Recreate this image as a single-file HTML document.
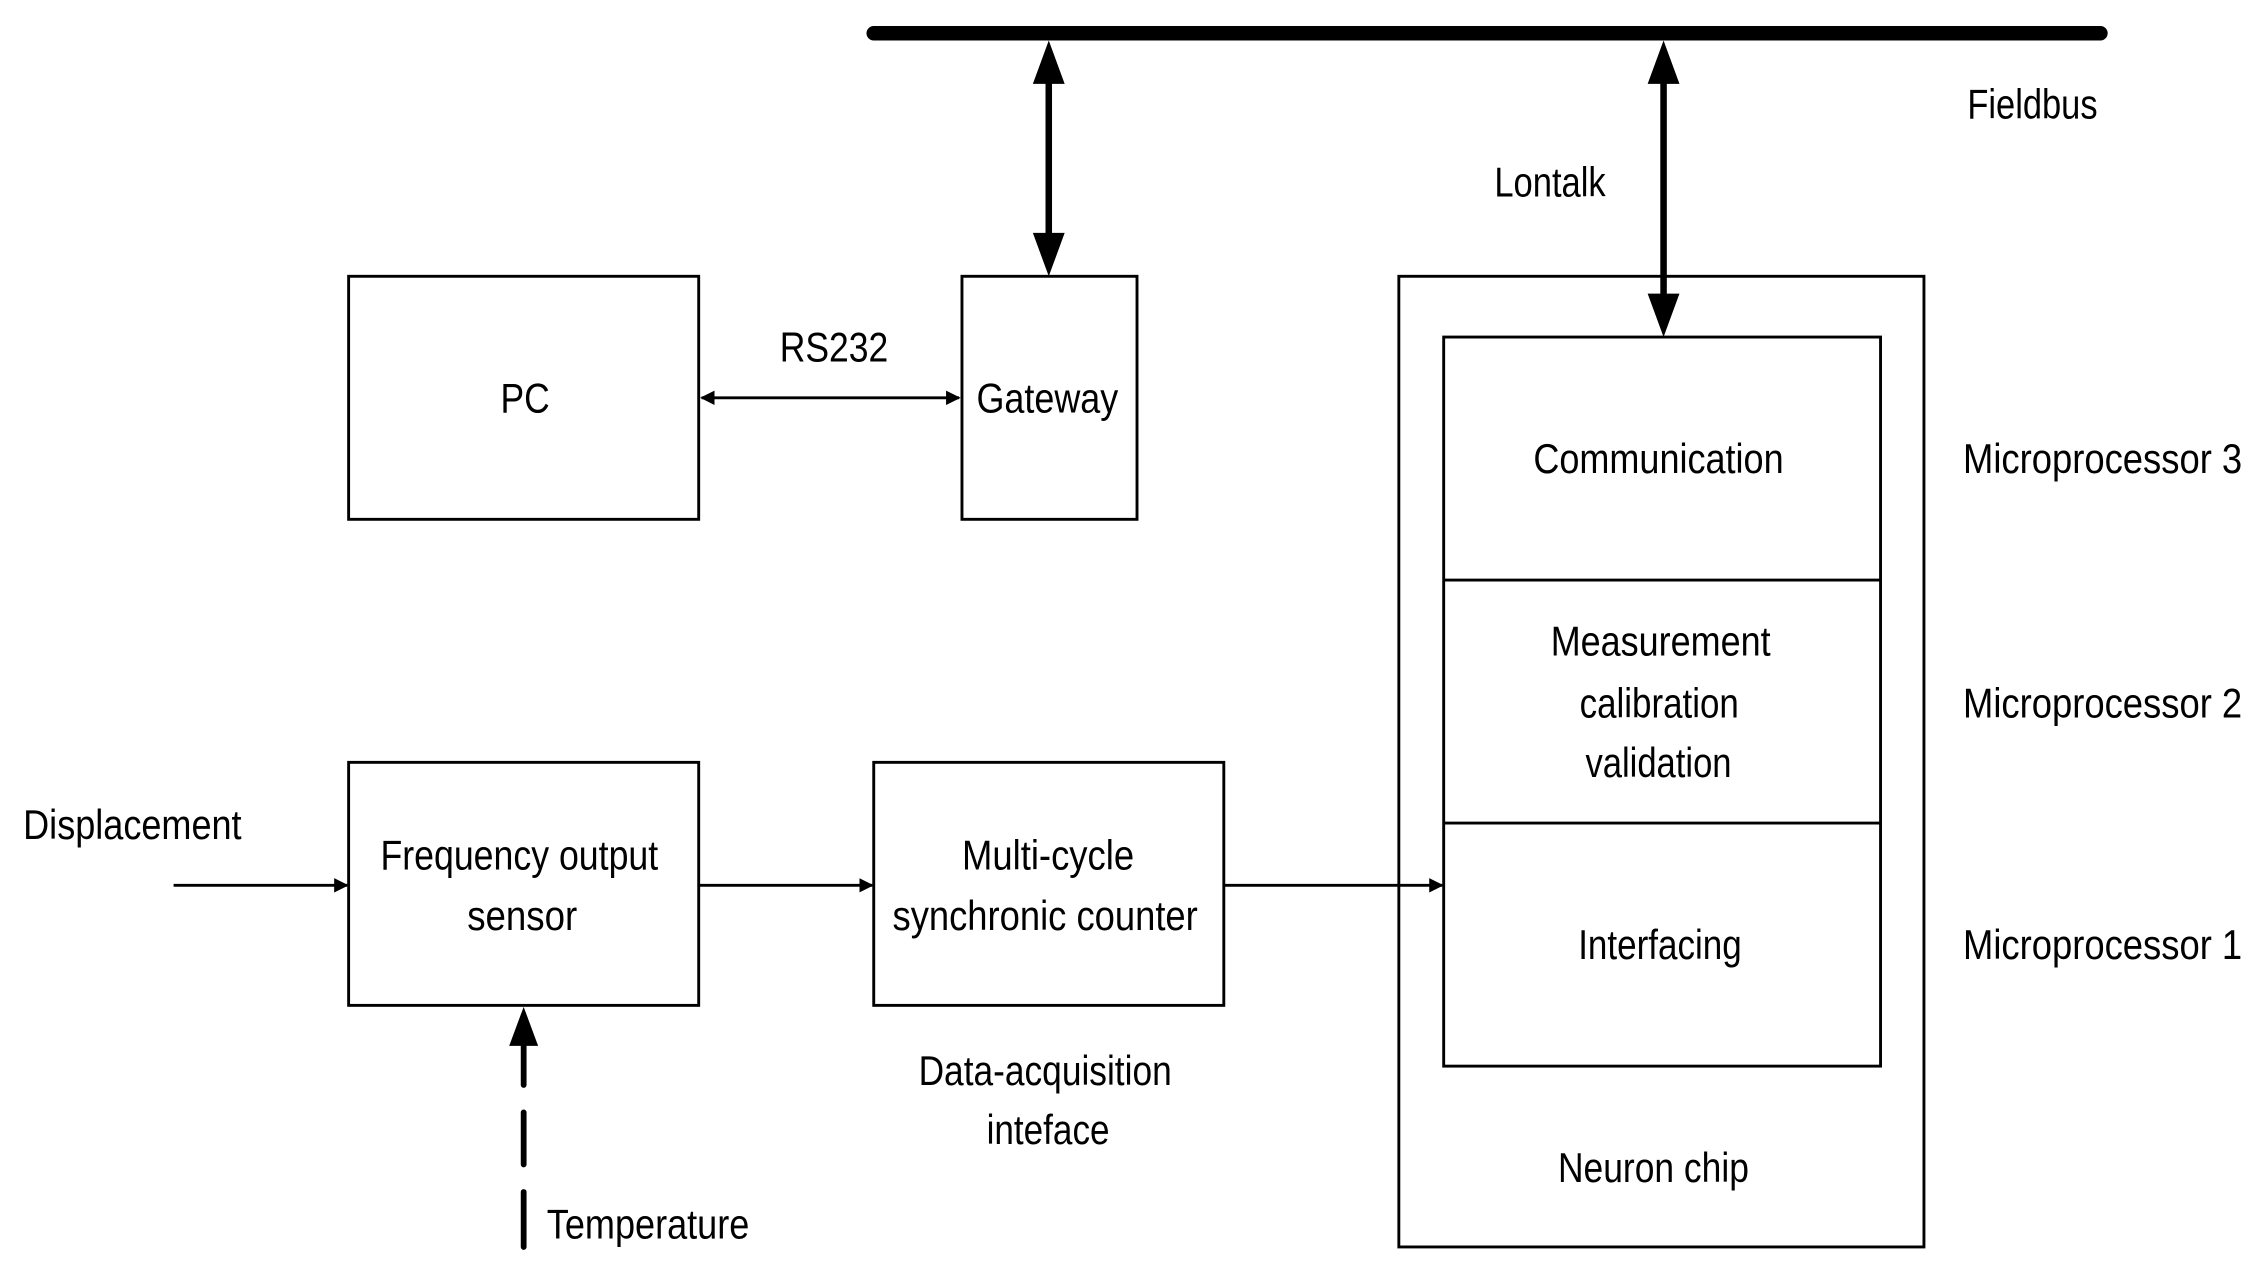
<!DOCTYPE html>
<html><head><meta charset="utf-8"><style>
html,body{margin:0;padding:0;background:#fff;}
svg{display:block;}
text{font-family:"Liberation Sans Narrow","Liberation Sans",Arial,sans-serif;font-size:29px;fill:#000;}
</style></head><body>
<svg width="2261" height="1274" viewBox="0 0 1563 880.7" preserveAspectRatio="none" xmlns="http://www.w3.org/2000/svg">
<defs>
<marker id="a" markerWidth="10" markerHeight="10" refX="9" refY="5" orient="auto-start-reverse" markerUnits="userSpaceOnUse"><path d="M0,0 L10,5 L0,10 z" fill="#000"/></marker>
</defs>
<line x1="604" y1="23" x2="1452" y2="23" stroke="#000" stroke-width="10" stroke-linecap="round"/>
<line x1="725" y1="50" x2="725" y2="170" stroke="#000" stroke-width="4.5"/>
<path d="M725,28 L714,58 L736,58 z M725,191 L714,161 L736,161 z" fill="#000"/>
<line x1="1150" y1="50" x2="1150" y2="212" stroke="#000" stroke-width="4.5"/>
<path d="M1150,28 L1139,58 L1161,58 z M1150,233 L1139,203 L1161,203 z" fill="#000"/>
<g fill="none" stroke="#000" stroke-width="2">
<rect x="241" y="191" width="242" height="168"/>
<rect x="665" y="191" width="121" height="168"/>
<rect x="967" y="191" width="363" height="671"/>
<rect x="998" y="233" width="302" height="504"/>
<line x1="998" y1="401" x2="1300" y2="401"/>
<line x1="998" y1="569" x2="1300" y2="569"/>
<rect x="241" y="527" width="242" height="168"/>
<rect x="604" y="527" width="242" height="168"/>
</g>
<g stroke="#000" stroke-width="2">
<line x1="485" y1="275" x2="663" y2="275" marker-start="url(#a)" marker-end="url(#a)"/>
<line x1="120" y1="612" x2="240" y2="612" marker-end="url(#a)"/>
<line x1="483" y1="612" x2="603" y2="612" marker-end="url(#a)"/>
<line x1="846" y1="612" x2="997" y2="612" marker-end="url(#a)"/>
</g>
<path d="M362,696 L352,723 L372,723 z" fill="#000"/>
<g stroke="#000" stroke-width="4" stroke-linecap="round">
<line x1="362" y1="722" x2="362" y2="750"/>
<line x1="362" y1="769" x2="362" y2="805"/>
<line x1="362" y1="824" x2="362" y2="862"/>
</g>
<g lengthAdjust="spacingAndGlyphs">
<text x="1360" y="82" textLength="90" lengthAdjust="spacingAndGlyphs">Fieldbus</text>
<text x="1033" y="136" textLength="77" lengthAdjust="spacingAndGlyphs">Lontalk</text>
<text x="346" y="285" textLength="34" lengthAdjust="spacingAndGlyphs">PC</text>
<text x="675" y="285" textLength="98" lengthAdjust="spacingAndGlyphs">Gateway</text>
<text x="539" y="250" textLength="75" lengthAdjust="spacingAndGlyphs">RS232</text>
<text x="1060" y="327" textLength="173" lengthAdjust="spacingAndGlyphs">Communication</text>
<text x="1072" y="453" textLength="152" lengthAdjust="spacingAndGlyphs">Measurement</text>
<text x="1092" y="496" textLength="110" lengthAdjust="spacingAndGlyphs">calibration</text>
<text x="1096" y="537" textLength="101" lengthAdjust="spacingAndGlyphs">validation</text>
<text x="1091" y="663" textLength="113" lengthAdjust="spacingAndGlyphs">Interfacing</text>
<text x="1077" y="817" textLength="132" lengthAdjust="spacingAndGlyphs">Neuron chip</text>
<text x="263" y="601" textLength="192" lengthAdjust="spacingAndGlyphs">Frequency output</text>
<text x="323" y="643" textLength="76" lengthAdjust="spacingAndGlyphs">sensor</text>
<text x="665" y="601" textLength="119" lengthAdjust="spacingAndGlyphs">Multi-cycle</text>
<text x="617" y="643" textLength="211" lengthAdjust="spacingAndGlyphs">synchronic counter</text>
<text x="635" y="750" textLength="175" lengthAdjust="spacingAndGlyphs">Data-acquisition</text>
<text x="682" y="791" textLength="85" lengthAdjust="spacingAndGlyphs">inteface</text>
<text x="1357" y="327" textLength="193" lengthAdjust="spacingAndGlyphs">Microprocessor 3</text>
<text x="1357" y="496" textLength="193" lengthAdjust="spacingAndGlyphs">Microprocessor 2</text>
<text x="1357" y="663" textLength="193" lengthAdjust="spacingAndGlyphs">Microprocessor 1</text>
<text x="16" y="580" textLength="151" lengthAdjust="spacingAndGlyphs">Displacement</text>
<text x="378" y="856" textLength="140" lengthAdjust="spacingAndGlyphs">Temperature</text>
</g>
</svg>
</body></html>
